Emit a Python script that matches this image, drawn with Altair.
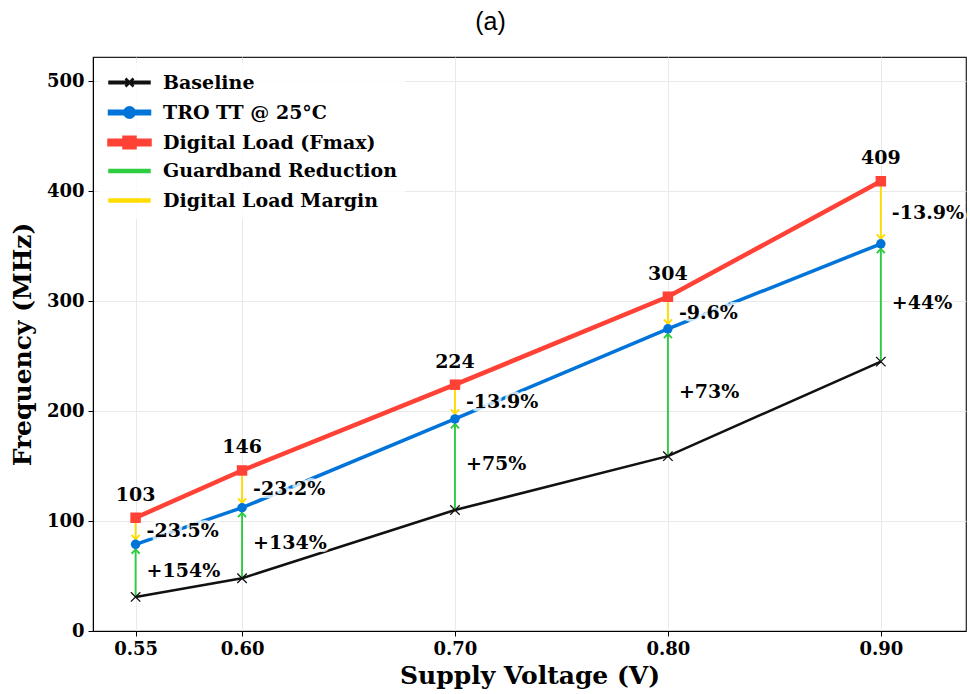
import altair as alt
import pandas as pd

# Supply-voltage sweep
voltage = [0.55, 0.60, 0.70, 0.80, 0.90]
baseline_mhz = [31, 48, 110, 159, 245]
tro_mhz = [78.8, 112.1, 192.9, 274.8, 352.1]
fmax_mhz = [103, 146, 224, 304, 409]
gain_labels = ["+154%", "+134%", "+75%", "+73%", "+44%"]
margin_labels = ["-23.5%", "-23.2%", "-13.9%", "-9.6%", "-13.9%"]

series_names = [
    "Baseline",
    "TRO TT @ 25°C",
    "Digital Load (Fmax)",
    "Guardband Reduction",
    "Digital Load Margin",
]
series_colors = ["#111111", "#0074D9", "#FF4136", "#2ECC40", "#FFDC00"]
series_widths = [2.5, 3.5, 4.5, 2.5, 2.5]

# legend keys: a short bar (line) with the series marker drawn on it
key_paths = [
    "M-1,-0.075H3V0.075H-1ZM0.6,-0.4L1.4,0.4M0.6,0.4L1.4,-0.4",
    "M-1,-0.125H3V0.125H-1ZM1.47,0A0.47,0.47 0 1,1 0.53,0A0.47,0.47 0 1,1 1.47,0Z",
    "M-1,-0.175H3V0.175H-1ZM0.5,-0.47H1.5V0.47H0.5Z",
    "M-1,-0.095H3V0.095H-1Z",
    "M-1,-0.095H3V0.095H-1Z",
]

GREEN = series_colors[3]
YELLOW = series_colors[4]
SERIF = "DejaVu Serif"
NOTE_SIZE = 19

pts = pd.DataFrame({
    "voltage": voltage,
    "baseline": baseline_mhz,
    "tro": tro_mhz,
    "fmax": fmax_mhz,
    "gain": gain_labels,
    "margin": margin_labels,
})

lines = pd.concat([
    pd.DataFrame({"voltage": voltage, "mhz": baseline_mhz, "series": series_names[0]}),
    pd.DataFrame({"voltage": voltage, "mhz": tro_mhz, "series": series_names[1]}),
    pd.DataFrame({"voltage": voltage, "mhz": fmax_mhz, "series": series_names[2]}),
], ignore_index=True)

keys = pd.DataFrame({"series": series_names})

x_enc = alt.X(
    "voltage:Q",
    scale=alt.Scale(domain=[0.53, 0.94], nice=False, zero=False),
    axis=alt.Axis(values=voltage, format=".2f", title="Supply Voltage (V)"),
)
y_scale = alt.Scale(domain=[0, 522], nice=False)
y_axis = alt.Axis(values=[0, 100, 200, 300, 400, 500], title="Frequency (MHz)")

legend = alt.Legend(
    title=None,
    orient="none",
    legendX=6,
    legendY=6,
    symbolSize=400,
    symbolStrokeWidth=1.2,
    labelOffset=31,
    labelLimit=400,
    gridAlign="all",
    rowPadding=0.5,
    padding=8,
    labelFont=SERIF,
    labelFontWeight="bold",
    labelFontSize=19,
    labelColor="#000000",
    fillColor="rgba(255,255,255,0.8)",
    symbolOpacity=1,
)
stroke_scale = alt.Scale(domain=series_names, range=series_colors)
fill_scale = alt.Scale(domain=series_names, range=series_colors)
width_scale = alt.Scale(type="ordinal", domain=series_names, range=series_widths)
shape_scale = alt.Scale(domain=series_names, range=key_paths)

series_lines = alt.Chart(lines).mark_line().encode(
    x=x_enc,
    y=alt.Y("mhz:Q", scale=y_scale, axis=y_axis),
    stroke=alt.Stroke("series:N", scale=stroke_scale, legend=legend),
    strokeWidth=alt.StrokeWidth("series:N", scale=width_scale, legend=None),
)

key_layer = alt.Chart(keys).transform_filter("false").mark_point(filled=True).encode(
    shape=alt.Shape("series:N", scale=shape_scale, legend=legend),
    fill=alt.Fill("series:N", scale=fill_scale, legend=legend),
    stroke=alt.Stroke("series:N", scale=stroke_scale, legend=legend),
)

base = alt.Chart(pts).encode(x=x_enc)

gain_rule = base.mark_rule(strokeWidth=1.9, color=GREEN).encode(
    y=alt.Y("baseline:Q", scale=y_scale), y2="tro:Q"
)
margin_rule = base.mark_rule(strokeWidth=1.9, color=YELLOW).encode(
    y=alt.Y("fmax:Q", scale=y_scale), y2="tro:Q"
)
gain_head = base.mark_point(
    shape="M-1,1.1L0,0L1,1.1", size=64, filled=False, stroke=GREEN,
    strokeWidth=1.9, opacity=1, yOffset=5,
).encode(y=alt.Y("tro:Q", scale=y_scale))
margin_head = base.mark_point(
    shape="M-1,-1.1L0,0L1,-1.1", size=64, filled=False, stroke=YELLOW,
    strokeWidth=1.9, opacity=1, yOffset=-5,
).encode(y=alt.Y("tro:Q", scale=y_scale))

base_marks = base.mark_point(
    shape="M-1,-1L1,1M-1,1L1,-1", size=90, filled=False,
    stroke=series_colors[0], strokeWidth=1.3, opacity=1,
).encode(y=alt.Y("baseline:Q", scale=y_scale))
tro_marks = base.mark_circle(size=90, color=series_colors[1], opacity=1).encode(
    y=alt.Y("tro:Q", scale=y_scale)
)
fmax_marks = base.mark_square(size=110, color=series_colors[2], opacity=1).encode(
    y=alt.Y("fmax:Q", scale=y_scale)
)

fmax_text = base.mark_text(
    font=SERIF, fontWeight="bold", fontSize=NOTE_SIZE, color="#000000",
    baseline="middle", dy=-23,
).encode(y=alt.Y("fmax:Q", scale=y_scale), text="fmax:Q")


def pct_labels(mid_expr, field):
    t = base.transform_calculate(mid=mid_expr)
    halo = t.mark_text(
        font=SERIF, fontWeight="bold", fontSize=NOTE_SIZE, align="left",
        baseline="middle", dx=11, stroke="white", strokeWidth=6,
        strokeOpacity=0.75, fill="white", fillOpacity=0.75,
    ).encode(y=alt.Y("mid:Q", scale=y_scale), text=f"{field}:N")
    txt = t.mark_text(
        font=SERIF, fontWeight="bold", fontSize=NOTE_SIZE, align="left",
        baseline="middle", dx=11, color="#000000",
    ).encode(y=alt.Y("mid:Q", scale=y_scale), text=f"{field}:N")
    return halo + txt


gain_text = pct_labels("(datum.baseline + datum.tro) / 2", "gain")
margin_text = pct_labels("(datum.fmax + datum.tro) / 2", "margin")

chart = alt.layer(
    key_layer,
    series_lines,
    gain_rule,
    margin_rule,
    gain_head,
    margin_head,
    base_marks,
    tro_marks,
    fmax_marks,
    fmax_text,
    gain_text,
    margin_text,
).properties(
    width=873,
    height=574,
    padding={"left": 93, "top": 57, "right": 4, "bottom": 63},
    autosize=alt.AutoSizeParams(type="none"),
    title=alt.TitleParams(
        "(a)", font="Liberation Sans", fontSize=25, fontWeight="normal",
        color="#000000", anchor="middle", dx=-39, dy=20, offset=17,
        baseline="bottom",
    ),
).configure_view(
    stroke="#222222", strokeWidth=1.2
).configure_axis(
    labelFont=SERIF,
    labelFontWeight="bold",
    labelFontSize=18,
    labelColor="#000000",
    titleFont=SERIF,
    titleFontWeight="bold",
    titleFontSize=25,
    titleColor="#000000",
    tickColor="#000000",
    tickSize=5,
    domainColor="#000000",
    gridColor="#e9e9e9",
    gridWidth=1,
    labelPadding=4,
).configure_axisX(
    titlePadding=5,
).configure_axisY(
    titlePadding=11,
)

chart.save("out.html", embed_options={"renderer": "svg", "actions": False})
